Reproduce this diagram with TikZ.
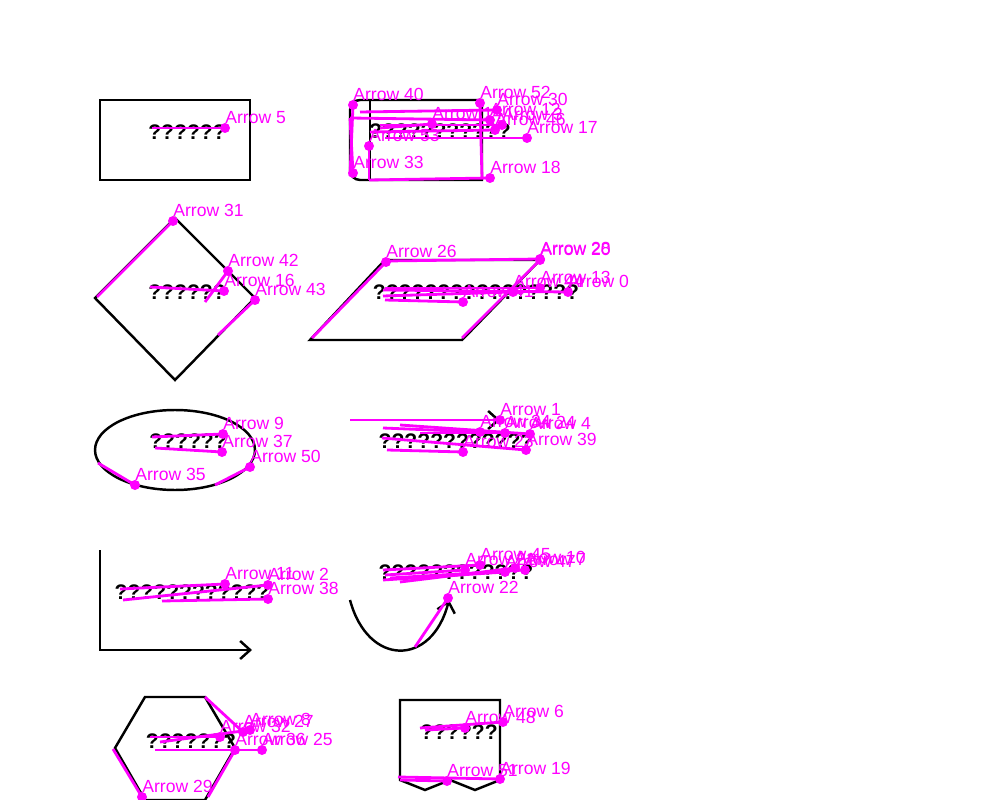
\documentclass[tikz,border=0pt]{standalone}
\usepackage{fontspec}
\setmainfont{Liberation Sans}
\usetikzlibrary{arrows.meta}
\definecolor{linkcolor}{RGB}{255,0,255}

\begin{document}
\begin{tikzpicture}[x=0.02cm, y=-0.02cm,
    shape line/.style={black, line width=1.4pt},
    shape arrow/.style={shape line, -{Straight Barb[length=2mm,width=3.6mm]}},
    qtext/.style={inner sep=0pt, font=\fontsize{12}{14}\selectfont\bfseries},
    link/.style={linkcolor, line width=1.6pt},
    link label/.style={linkcolor, inner sep=0pt, anchor=base west, yshift=0.9mm,
        font=\fontsize{10}{12}\selectfont}]
    \useasboundingbox (0,0) rectangle (1000,800);

    % shapes
    \draw [shape line] (100,100) rectangle (250,180);
    \draw [shape line] (360,100) -- (482,100) -- (482,180) -- (360,180)
        to [out=180,in=-90] (350,170) -- (350,110) to [out=90,in=180] (360,100);
    \draw [shape line] (370,100) -- (370,180);
    \draw [shape line] (175,218) -- (255,298) -- (175,380) -- (95,298) -- cycle;
    \draw [shape line] (385,260) -- (540,260) -- (462,340) -- (310,340) -- cycle;
    \draw [shape line] (175,450) ellipse [x radius=1.6cm, y radius=0.8cm];
    \draw [shape arrow] (350,420) -- (500,420);
    \draw [shape arrow] (100,550) -- (100,650) -- (252,650);
    \draw [shape arrow] (350,600) .. controls (368,667) and (432,667) .. (449,600);
    \draw [shape line] (145,697) -- (205,697) -- (235,748) -- (205,800) -- (145,800) -- (115,748) -- cycle;
    \draw [shape line] (400,780) -- (400,700) -- (500,700) -- (500,780) -- (475,790)
        -- (450,780) -- (425,790) -- cycle;

    % texts
    \node [qtext] (rectText) at (187,132) {??????};
    \node [qtext] (storeText) at (440,131) {???????????};
    \node [qtext] (diamondText) at (187,292) {??????};
    \node [qtext] (paraText) at (476,292) {????????????????};
    \node [qtext] (ellipseText) at (188,441) {??????};
    \node [qtext] (arrowText) at (456,441) {????????????};
    \node [qtext] (axesText) at (192,592) {????????????};
    \node [qtext] (curveText) at (456,572) {????????????};
    \node [qtext] (hexText) at (191,741) {???????};
    \node [qtext] (docText) at (459,732) {??????};

    % arrows
    \foreach \sx/\sy/\ex/\ey/\n in {152/128/225/128/5, 350/176/353/105/40, 350/118/353/173/33,
        369/180/369/146/53, 360/112/497/110/30, 350/118/490/120/12, 380/125/502/125/3,
        385/138/527/138/17, 369/180/490/178/18, 482/178/480/103/52, 380/128/432/124/14,
        370/132/495/130/46, 97/297/173/221/31, 205/302/228/271/42, 150/287/224/291/16,
        218/335/255/300/43, 312/338/386/262/26, 386/261/540/259/28, 462/338/540/260/20,
        385/288/540/288/13, 383/290/568/292/0, 383/296/513/292/44, 385/300/463/302/41,
        152/437/223/434/9, 155/448/222/452/37, 215/485/250/467/50, 98/463/135/485/35,
        350/420/500/420/1, 383/428/480/432/34, 420/433/505/433/24, 400/425/530/434/4,
        387/450/463/452/23, 382/438/526/450/39, 120/589/225/584/11, 123/600/268/585/2,
        162/601/268/599/38, 415/647/448/598/22, 383/570/480/565/45, 385/575/465/570/21,
        390/578/525/570/7, 383/580/505/572/47, 400/582/515/568/10, 113/749/142/797/29,
        150/737/220/737/32, 205/697/243/732/27, 160/742/250/730/8, 208/797/235/750/36,
        155/750/262/750/25, 420/728/503/722/6, 425/730/465/728/48, 398/777/500/779/19,
        400/780/447/781/51}{
        \coordinate (from\n) at (\sx,\sy);
        \coordinate (to\n) at (\ex,\ey);
        \draw [link] (from\n) -- (to\n);
        \fill [linkcolor] (to\n) circle (1mm);
        \node [link label] (label\n) at (to\n) {Arrow \n};
    }
\end{tikzpicture}
\end{document}
